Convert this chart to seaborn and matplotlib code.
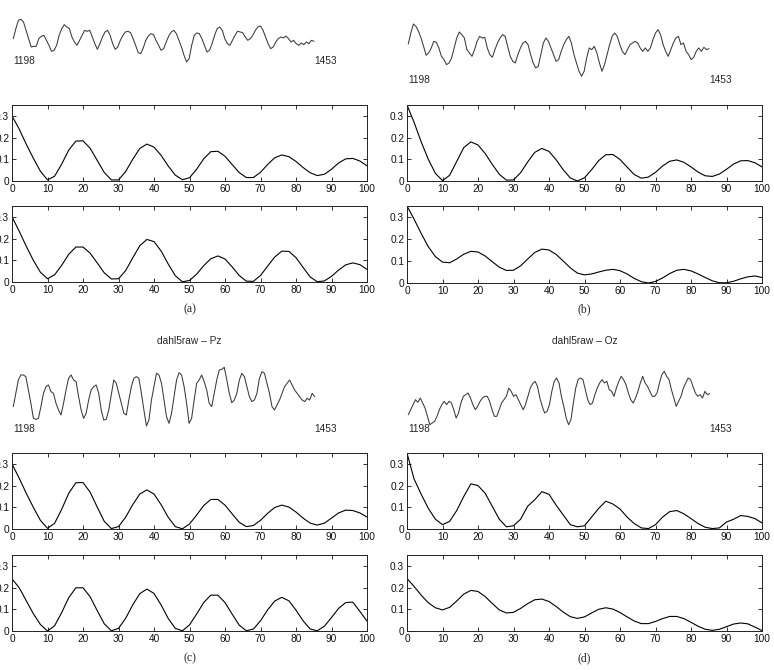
"""
EEG segments (samples 1198-1453) with two autocorrelation-type curves per channel,
laid out as four panels (a)-(d) in the style of the original MATLAB figure.
"""

import numpy as np
import matplotlib
matplotlib.use("Agg")
import matplotlib.pyplot as plt
import seaborn as sns

W, H = 774, 670

# --- data ------------------------------------------------------------------
first_sample = 1198
last_sample = 1453

lags = np.arange(0, 101, 2)
lag_ticks = list(range(0, 101, 10))
acf_ticks = [0, 0.1, 0.2, 0.3]
acf_tick_labels = ["0", "0.1", "0.2", "0.3"]

# raw traces (arbitrary amplitude units)
trace_a = [20, 50, 75, 78, 70, 45, 20, -5, -3, -3, 20, 27, 30, 15, 0, -18, -15, 0, 30, 50,
           62, 55, 50, 25, 10, 0, 15, 30, 45, 42, 45, 25, 5, -12, 5, 25, 40, 45, 30, 5,
           -12, -5, 15, 30, 40, 42, 38, 20, 0, -22, -25, -8, 15, 28, 35, 32, 15, 0, -15, -10,
           10, 28, 40, 45, 35, 15, -5, -30, -50, -40, 0, 30, 37, 35, 20, 0, -20, -15, 5, 30,
           50, 55, 45, 20, 5, 0, 15, 30, 42, 40, 38, 25, 15, 20, 30, 45, 55, 58, 45, 25,
           5, -10, -5, 10, 20, 25, 22, 28, 20, 10, 15, 5, 0, 7, 2, 10, 5, 15, 12]
trace_b = [22, 55, 82, 75, 60, 40, 15, -12, -5, 10, 30, 27, 10, -15, -25, -40, -35, -20, 10, 40,
           58, 50, 40, 5, -5, -15, 5, 30, 45, 40, 42, 10, -10, -18, 5, 25, 40, 50, 45, 15,
           -15, -30, -35, -10, 10, 25, 30, 20, -10, -35, -50, -45, -10, 25, 40, 30, 10, -10, -30, -25,
           0, 20, 35, 45, 25, -10, -35, -60, -75, -60, -20, 10, 5, 15, -5, -35, -60, -40, -10, 20,
           45, 55, 45, 20, 0, -10, 5, 20, 25, 30, 25, 10, 0, 10, 0, 10, 35, 55, 65, 50,
           20, 0, -15, 5, 25, 40, 45, 20, 25, 0, -10, -25, -18, 0, 10, 0, 12, 5, 8]
trace_c = [-30, 10, 50, 65, 65, 60, 20, -20, -65, -68, -65, -30, 10, 30, 35, 15, 10, -20, -40, -55,
           -20, 20, 55, 65, 50, 45, 0, -40, -65, -50, -10, 20, 30, 35, 10, -40, -70, -68, -40, 5,
           50, 40, 10, -20, -50, -55, -10, 30, 55, 60, 55, 10, -40, -88, -70, -10, 30, 70, 65, 40,
           -10, -60, -80, -50, 0, 50, 72, 65, 30, -20, -80, -65, -10, 40, 50, 65, 45, 20, -20, -30,
           10, 50, 80, 82, 88, 50, 10, -18, -10, 10, 50, 70, 60, 30, 0, -15, -10, 10, 55, 75,
           70, 40, 10, -30, -40, -25, -10, 10, 30, 40, 50, 35, 20, 10, 0, -10, -15, -5, -10, 10,
           0]
trace_d = [-45, -30, -15, 0, -8, 5, -10, -25, -50, -75, -70, -65, -50, -30, -15, -5, -15, -5, -10, -30,
           -55, -40, -10, 10, 15, 20, 5, -15, -30, -20, -5, 5, 10, 10, -5, -30, -50, -50, -30, -10,
           0, 10, 35, 25, 10, 15, 0, -15, -30, -15, 10, 35, 48, 55, 40, 5, -20, -40, -35, -15,
           25, 55, 65, 50, 10, -20, -55, -75, -60, -10, 35, 60, 65, 60, 30, 0, -15, -10, 15, 35,
           50, 60, 50, 55, 30, 25, 10, 35, 55, 70, 60, 45, 20, 0, -10, 5, 25, 50, 70, 50,
           40, 25, 10, 10, 20, 50, 75, 85, 70, 60, 30, 5, -20, -5, 10, 35, 50, 65, 60, 40,
           20, 10, 15, 5, 25, 15, 18]

# curves over lags 0..100 (step 2)
acf_a_top = [.300, .240, .170, .105, .045, .005, .022, .078, .143, .184,
             .185, .151, .095, .039, .005, .005, .043, .100, .150, .170,
             .156, .118, .069, .027, .006, .015, .054, .102, .135, .137,
             .114, .076, .039, .016, .016, .040, .076, .107, .120, .112,
             .090, .062, .038, .025, .031, .054, .083, .102, .104, .092, .070]
acf_a_bot = [.300, .235, .165, .100, .045, .015, .033, .077, .128, .161,
             .161, .133, .088, .042, .014, .015, .052, .111, .167, .196,
             .186, .143, .083, .029, .001, .007, .036, .075, .107, .120,
             .106, .070, .030, .004, .003, .030, .073, .115, .142, .141,
             .112, .067, .023, .001, .005, .026, .055, .079, .088, .080, .058]
acf_b_top = [.350, .270, .180, .100, .035, .002, .026, .090, .154, .180,
             .166, .127, .077, .031, .004, .005, .038, .088, .132, .150,
             .136, .098, .052, .014, .000, .015, .052, .094, .121, .122,
             .099, .064, .030, .013, .018, .040, .069, .091, .097, .086,
             .065, .041, .024, .021, .032, .054, .078, .093, .094, .084, .065]
acf_b_bot = [.350, .290, .225, .165, .120, .095, .092, .109, .131, .144,
             .141, .123, .097, .072, .057, .058, .078, .109, .139, .154,
             .150, .130, .100, .069, .045, .037, .041, .050, .058, .062,
             .056, .041, .021, .006, .000, .007, .023, .043, .058, .062,
             .055, .041, .025, .010, .001, .001, .008, .019, .028, .032, .025]
acf_c_top = [.300, .235, .165, .100, .040, .003, .026, .091, .165, .213,
             .214, .170, .101, .035, .002, .011, .054, .112, .161, .180,
             .161, .112, .054, .011, .001, .023, .064, .108, .136, .136,
             .110, .070, .031, .011, .016, .040, .072, .099, .110, .101,
             .078, .050, .027, .018, .027, .050, .074, .087, .085, .074, .055]
acf_c_bot = [.240, .200, .140, .080, .030, .000, .024, .085, .154, .199,
             .199, .158, .094, .033, .001, .012, .058, .120, .172, .193,
             .173, .120, .058, .012, .001, .028, .078, .131, .165, .165,
             .131, .078, .027, .001, .009, .047, .097, .138, .155, .139,
             .096, .047, .009, .001, .022, .062, .104, .131, .133, .090, .046]
acf_d_top = [.350, .230, .160, .095, .045, .020, .035, .085, .150, .208,
             .200, .165, .105, .045, .010, .015, .045, .105, .135, .172,
             .160, .110, .065, .020, .010, .015, .055, .095, .128, .115,
             .092, .055, .025, .005, .002, .020, .055, .080, .085, .070,
             .048, .025, .008, .002, .005, .032, .045, .062, .058, .048, .028]
acf_d_bot = [.242, .205, .165, .130, .107, .097, .109, .138, .170, .187,
             .182, .159, .127, .097, .083, .086, .104, .126, .144, .147,
             .136, .113, .087, .066, .058, .065, .083, .100, .107, .101,
             .085, .065, .046, .034, .034, .044, .057, .067, .067, .057,
             .040, .022, .008, .003, .008, .020, .032, .037, .033, .018, .002]

panel_titles = {"c": "dahl5raw \u2013 Pz", "d": "dahl5raw \u2013 Oz"}

# --- layout (pixel boxes: left, top, right, bottom) ---------------------------
panels = [
    dict(name="a", trace=trace_a, top=acf_a_top, bot=acf_a_bot,
         trace_box=(13.3, 19.3, 314, 62), top_box=(12, 105, 367, 181),
         bot_box=(12, 206, 367, 282), label_y=61, caption_y=309),
    dict(name="b", trace=trace_b, top=acf_b_top, bot=acf_b_bot,
         trace_box=(408.3, 24, 709, 76.3), top_box=(407, 105, 762, 181),
         bot_box=(407, 206, 762, 283), label_y=80, caption_y=309),
    dict(name="c", trace=trace_c, top=acf_c_top, bot=acf_c_bot,
         trace_box=(13.3, 367.3, 314.7, 426), top_box=(12, 453, 367, 529),
         bot_box=(12, 555, 367, 631), label_y=429, caption_y=658),
    dict(name="d", trace=trace_d, top=acf_d_top, bot=acf_d_bot,
         trace_box=(408.3, 371.3, 709.7, 424.7), top_box=(407, 453, 762, 529),
         bot_box=(407, 555, 762, 631), label_y=429, caption_y=658),
]

sns.set_theme(style="ticks")
plt.rcParams["font.family"] = ["Liberation Sans", "DejaVu Sans"]

fig = plt.figure(figsize=(W / 100, H / 100), dpi=100)


def px_axes(box):
    left, top, right, bottom = box
    return fig.add_axes([left / W, 1 - bottom / H, (right - left) / W, (bottom - top) / H])


def fig_text(x, y, s, **kw):
    fig.text(x / W, 1 - y / H, s, **kw)


def draw_trace(ax, values):
    x = np.linspace(first_sample, last_sample, len(values))
    sns.lineplot(x=x, y=values, ax=ax, color="#3a3a3a", linewidth=0.75)
    ax.set_xlim(first_sample, last_sample)
    ax.set_ylim(min(values), max(values))
    ax.axis("off")
    for line in ax.lines:
        line.set_clip_on(False)


def draw_acf(ax, values):
    sns.lineplot(x=lags, y=values, ax=ax, color="black", linewidth=0.8)
    ax.set_xlim(0, 100)
    ax.set_ylim(0, 0.35)
    ax.set_xticks(lag_ticks)
    ax.set_yticks(acf_ticks)
    ax.set_yticklabels(acf_tick_labels)
    ax.set_xlabel("")
    ax.set_ylabel("")
    ax.tick_params(direction="in", length=3, width=0.6, top=True, right=True,
                   labelsize=7.3, pad=2, colors="#111")
    for spine in ax.spines.values():
        spine.set_linewidth(0.7)
        spine.set_color("#222")


for p in panels:
    draw_trace(px_axes(p["trace_box"]), p["trace"])
    draw_acf(px_axes(p["top_box"]), p["top"])
    draw_acf(px_axes(p["bot_box"]), p["bot"])

    left, _, right, _ = p["trace_box"]
    fig_text(left, p["label_y"], str(first_sample), fontsize=7.3, va="center", ha="left")
    fig_text(right, p["label_y"], str(last_sample), fontsize=7.3, va="center", ha="left")

    bl, _, br, _ = p["bot_box"]
    fig_text((bl + br) / 2, p["caption_y"], "(%s)" % p["name"], fontsize=8.5,
             ha="center", va="center", family="Liberation Serif")

    if p["name"] in panel_titles:
        tl, _, tr, _ = p["top_box"]
        fig_text((tl + tr) / 2, 341, panel_titles[p["name"]], fontsize=7.3,
                 ha="center", va="center")

fig.savefig("out.png", dpi=100, facecolor="white")
